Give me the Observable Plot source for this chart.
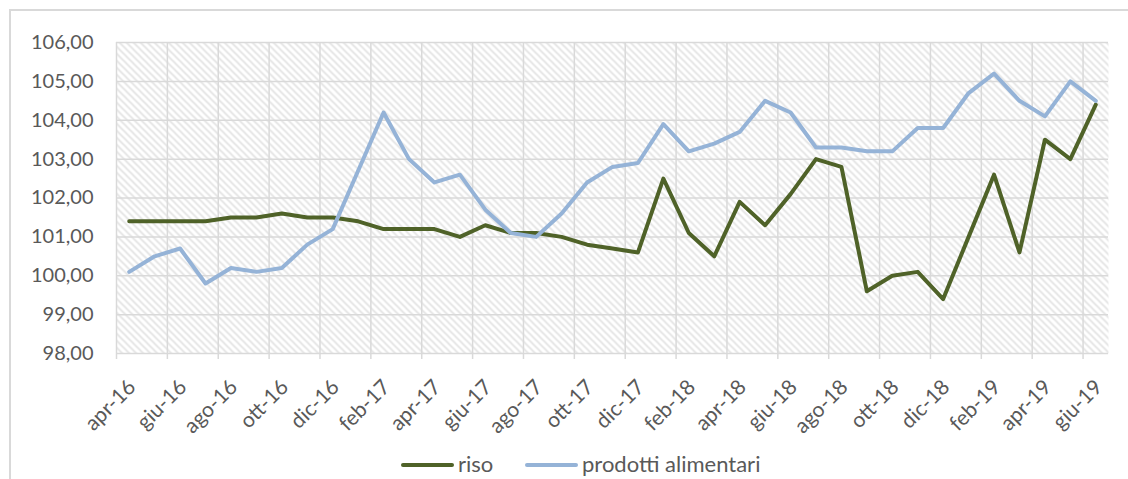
<!DOCTYPE html>
<html><head><meta charset="utf-8">
<script src="https://cdn.jsdelivr.net/npm/d3@7"></script>
<script src="https://cdn.jsdelivr.net/npm/@observablehq/plot@0.6"></script>
<style>
body{margin:0;background:#fff;font-family:Lato,"Open Sans",sans-serif;}
#wrap{position:relative;width:1128px;height:479px;overflow:hidden;background:#fff;}
#border{position:absolute;left:9px;top:9px;width:1300px;height:700px;border:2px solid #d9d9d9;box-sizing:border-box;}
#chart{position:absolute;left:0;top:0;}
#legend{position:absolute;left:0;top:0;width:1128px;height:479px;pointer-events:none;}
.sw{position:absolute;height:4px;top:463px;width:53px;border-radius:2px;}
.lt{position:absolute;top:450px;font-size:22px;color:#595959;line-height:28px;white-space:nowrap;}
</style>
</head><body>
<div id="wrap"><div id="border"></div><div id="chart"></div><div id="legend"></div></div>
<script>
const months = ["apr-16","mag-16","giu-16","lug-16","ago-16","set-16","ott-16","nov-16","dic-16",
"gen-17","feb-17","mar-17","apr-17","mag-17","giu-17","lug-17","ago-17","set-17","ott-17","nov-17","dic-17",
"gen-18","feb-18","mar-18","apr-18","mag-18","giu-18","lug-18","ago-18","set-18","ott-18","nov-18","dic-18",
"gen-19","feb-19","mar-19","apr-19","mag-19","giu-19"];
const riso = [101.4,101.4,101.4,101.4,101.5,101.5,101.6,101.5,101.5,
101.4,101.2,101.2,101.2,101.0,101.3,101.1,101.1,101.0,100.8,100.7,100.6,
102.5,101.1,100.5,101.9,101.3,102.1,103.0,102.8,99.6,100.0,100.1,99.4,
101.0,102.6,100.6,103.5,103.0,104.4];
const prodotti = [100.1,100.5,100.7,99.8,100.2,100.1,100.2,100.8,101.2,
102.7,104.2,103.0,102.4,102.6,101.7,101.1,101.0,101.6,102.4,102.8,102.9,
103.9,103.2,103.4,103.7,104.5,104.2,103.3,103.3,103.2,103.2,103.8,103.8,
104.7,105.2,104.5,104.1,105.0,104.5];
const seriesNames = ["riso","prodotti alimentari"];
const seriesColors = ["#4F6228","#95B3D7"];
const yTicks = [98,99,100,101,102,103,104,105,106];

const table = months.map((m,i)=>({i, m, riso: riso[i], prodotti: prodotti[i]}));
const labelIdx = months.map((m,i)=>i).filter(i=>i%2===0);
const boundaries = labelIdx; // tick/grid at category boundaries every 2 months
const fmt = v => d3.format(".2f")(v).replace(".", ",");

const plot = Plot.plot({
  width: 1128, height: 479,
  marginLeft: 116, marginRight: 20, marginTop: 42, marginBottom: 126,
  style: {fontFamily: "Lato, 'Open Sans', sans-serif", color: "#595959", background: "transparent", overflow: "visible"},
  x: {type: "linear", domain: [0, months.length]},
  y: {domain: [98, 106]},
  marks: [
    Plot.frame({fill: "url(#hatch)", stroke: "none"}),
    Plot.ruleY(yTicks, {stroke: "#d9d9d9", strokeWidth: 1.5}),
    Plot.ruleX(boundaries, {stroke: "#d9d9d9", strokeWidth: 1.5}),
    Plot.axisY(yTicks, {tickSize: 0, tickPadding: 23, tickFormat: fmt, fontSize: 20, fill: "#595959", label: null}),
    Plot.axisX(boundaries, {tickSize: 6, stroke: "#d9d9d9", strokeWidth: 1.5, tickFormat: () => "", label: null}),
    Plot.axisX(labelIdx.map(i => i + 0.5), {tickSize: 0, tickPadding: 22, tickRotate: -45, fontSize: 21, fill: "#595959",
      dx: 3, dy: 8, tickFormat: v => months[Math.round(v - 0.5)], label: null}),
    Plot.line(table, {x: d => d.i + 0.5, y: "riso", stroke: seriesColors[0], strokeWidth: 4, strokeLinejoin: "round"}),
    Plot.line(table, {x: d => d.i + 0.5, y: "prodotti", stroke: seriesColors[1], strokeWidth: 4, strokeLinejoin: "round"})
  ]
});

const ns = "http://www.w3.org/2000/svg";
const defs = document.createElementNS(ns, "defs");
defs.innerHTML = '<pattern id="hatch" patternUnits="userSpaceOnUse" width="7" height="7">' +
  '<rect width="7" height="7" fill="#ffffff"/>' +
  '<path d="M0,0L7,7M-2,5L2,9M5,-2L9,2" stroke="#e2e2e2" stroke-width="1.6"/></pattern>';
plot.insertBefore(defs, plot.firstChild);
document.getElementById("chart").appendChild(plot);

const leg = document.getElementById("legend");
const swX = [401, 525], txX = [458, 582];
seriesNames.forEach((n, k) => {
  const s = document.createElement("div"); s.className = "sw";
  s.style.left = swX[k] + "px"; s.style.background = seriesColors[k]; leg.appendChild(s);
  const t = document.createElement("div"); t.className = "lt"; t.style.left = txX[k] + "px";
  t.textContent = n; leg.appendChild(t);
});
</script>
</body></html>
